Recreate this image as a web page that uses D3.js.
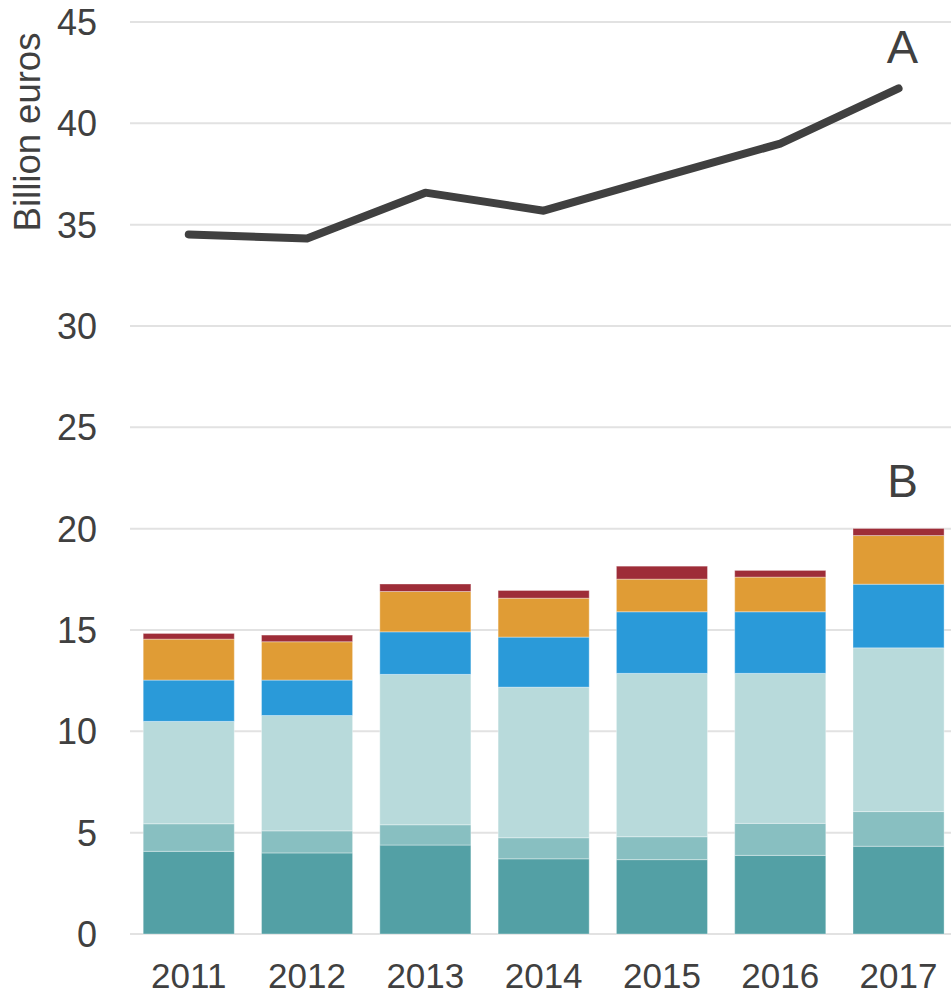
<!DOCTYPE html>
<html>
<head>
<meta charset="utf-8">
<script src="https://cdn.jsdelivr.net/npm/d3@7"></script>
<style>
  html, body { margin: 0; padding: 0; background: #fff; }
  svg { display: block; font-family: "Liberation Sans", Arial, sans-serif; }
</style>
</head>
<body>
<svg id="chart" width="951" height="995"></svg>
<script>
// Years on the x axis
const years = ["2011", "2012", "2013", "2014", "2015", "2016", "2017"];

// Line A (billion euros)
const seriesA = [34.52, 34.32, 36.58, 35.69, 37.36, 39.0, 41.72];

// Stacked components of B (billion euros), bottom to top
const b1 = [4.08, 4.00, 4.39, 3.71, 3.67, 3.88, 4.33];
const b2 = [1.36, 1.09, 1.00, 1.04, 1.13, 1.58, 1.71];
const b3 = [5.05, 5.69, 7.42, 7.43, 8.06, 7.40, 8.08];
const b4 = [2.04, 1.75, 2.10, 2.47, 3.04, 3.04, 3.14];
const b5 = [2.02, 1.89, 1.99, 1.92, 1.61, 1.71, 2.40];
const b6 = [0.28, 0.33, 0.37, 0.38, 0.64, 0.33, 0.35];

const yTicks = [0, 5, 10, 15, 20, 25, 30, 35, 40, 45];
const yLabel = "Billion euros";

const keys = ["b1", "b2", "b3", "b4", "b5", "b6"];
const colors = {
  b1: "#53a0a5",
  b2: "#88bfc1",
  b3: "#b8dadb",
  b4: "#2a9ad9",
  b5: "#e09c35",
  b6: "#9e2d38"
};

const rows = years.map((y, i) => ({
  year: y, b1: b1[i], b2: b2[i], b3: b3[i], b4: b4[i], b5: b5[i], b6: b6[i]
}));

const svg = d3.select("#chart");
const textColor = "#404040";

const x = d3.scaleBand()
  .domain(years)
  .range([129.6, 957.7])
  .paddingInner(0.23)
  .paddingOuter(0.115);

const y = d3.scaleLinear().domain([0, 45]).range([934, 22]);

// Horizontal gridlines
svg.append("g")
  .selectAll("line")
  .data(yTicks)
  .join("line")
  .attr("x1", 130)
  .attr("x2", 951)
  .attr("y1", d => y(d))
  .attr("y2", d => y(d))
  .attr("stroke", "#e2e2e2")
  .attr("stroke-width", 2);

// Y tick labels
svg.append("g")
  .selectAll("text")
  .data(yTicks)
  .join("text")
  .attr("x", 97)
  .attr("y", d => y(d))
  .attr("dy", "0.36em")
  .attr("text-anchor", "end")
  .attr("font-size", 36)
  .attr("fill", textColor)
  .text(d => d);

// Y axis title
svg.append("text")
  .attr("transform", "translate(40,132) rotate(-90)")
  .attr("text-anchor", "middle")
  .attr("font-size", 36.5)
  .attr("fill", textColor)
  .text(yLabel);

// Stacked bars
const stacked = d3.stack().keys(keys)(rows);
svg.append("g")
  .selectAll("g")
  .data(stacked)
  .join("g")
  .attr("fill", d => colors[d.key])
  .selectAll("rect")
  .data(d => d)
  .join("rect")
  .attr("x", d => x(d.data.year))
  .attr("width", x.bandwidth())
  .attr("y", d => y(d[1]))
  .attr("height", d => y(d[0]) - y(d[1]))
  .attr("stroke", "#ffffff")
  .attr("stroke-opacity", 0.35)
  .attr("stroke-width", 1);

// Line A
const line = d3.line()
  .x((d, i) => x(years[i]) + x.bandwidth() / 2)
  .y(d => y(d));

svg.append("path")
  .datum(seriesA)
  .attr("d", line)
  .attr("fill", "none")
  .attr("stroke", "#404040")
  .attr("stroke-width", 8)
  .attr("stroke-linecap", "round")
  .attr("stroke-linejoin", "round");

// X axis labels
svg.append("g")
  .selectAll("text")
  .data(years)
  .join("text")
  .attr("x", d => x(d) + x.bandwidth() / 2)
  .attr("y", 988)
  .attr("text-anchor", "middle")
  .attr("font-size", 35)
  .attr("fill", textColor)
  .text(d => d);

// Series labels
const last = years[years.length - 1];
const labelX = x(last) + x.bandwidth() / 2 + 4;
svg.append("text")
  .attr("x", labelX)
  .attr("y", 63)
  .attr("text-anchor", "middle")
  .attr("font-size", 47)
  .attr("fill", textColor)
  .text("A");
svg.append("text")
  .attr("x", labelX)
  .attr("y", 497)
  .attr("text-anchor", "middle")
  .attr("font-size", 46)
  .attr("fill", textColor)
  .text("B");
</script>
</body>
</html>
